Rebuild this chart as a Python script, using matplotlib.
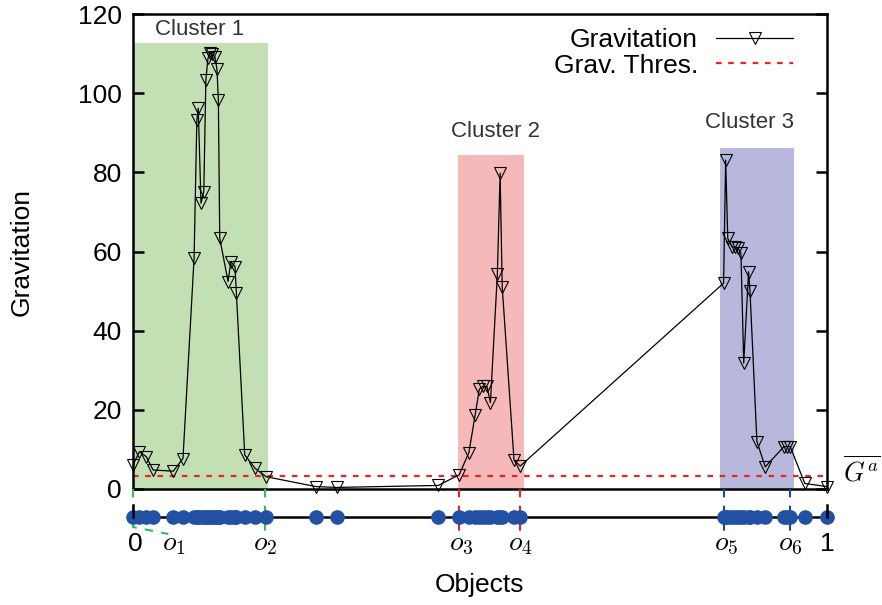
import numpy as np
import matplotlib
matplotlib.use("Agg")
import matplotlib.pyplot as plt

plt.rcParams['font.family'] = ['Liberation Sans', 'DejaVu Sans']
plt.rcParams['mathtext.fontset'] = 'cm'

# object positions (normalised 0..1) and their gravitation values
obj_x = [0.000, 0.009, 0.019, 0.029, 0.058, 0.072, 0.088, 0.092, 0.094, 0.098,
         0.102, 0.105, 0.108, 0.111, 0.114, 0.118, 0.121, 0.123, 0.125, 0.137,
         0.141, 0.147, 0.149, 0.161, 0.176, 0.192,
         0.264, 0.294, 0.440, 0.470,
         0.484, 0.493, 0.499, 0.504, 0.510, 0.515, 0.525, 0.529, 0.532, 0.549,
         0.558,
         0.851, 0.854, 0.857, 0.863, 0.867, 0.872, 0.876, 0.880, 0.887, 0.889,
         0.899, 0.911, 0.938, 0.942, 0.947, 0.968, 1.000]
grav = [6.0, 9.4, 8.2, 4.8, 4.5, 7.7, 58.3, 93.2, 96.2, 72.2,
        75.1, 103.3, 108.8, 110.1, 109.9, 109.2, 106.0, 98.3, 63.3, 52.4,
        57.4, 56.2, 49.4, 8.6, 5.2, 3.1,
        0.6, 0.4, 0.9, 3.6,
        9.2, 18.7, 25.2, 25.9, 25.9, 21.8, 54.3, 79.8, 51.1, 7.3,
        5.8,
        52.0, 83.1, 63.3, 61.2, 61.1, 60.8, 59.5, 31.8, 54.9, 50.1,
        12.0, 5.6, 10.7, 10.7, 10.7, 1.4, 0.6]
thres = 3.3

clusters = ['Cluster 1', 'Cluster 2', 'Cluster 3']
clu_span = [(0.000, 0.195), (0.468, 0.563), (0.846, 0.952)]
clu_top = [112.7, 84.4, 86.2]
clu_color = ['#c3e0b4', '#f6b9ba', '#b8b8dc']
clu_line = ['#33bb55', '#dd2233', '#2244aa']
clu_lab_pos = [(0.0965, 116.0), (0.523, 90.2), (0.889, 92.7)]

# boundary objects o1..o6
bound_x = [0.000, 0.190, 0.470, 0.558, 0.851, 0.947]
bound_lab = ['$o_1$', '$o_2$', '$o_3$', '$o_4$', '$o_5$', '$o_6$']
bound_lab_x = [0.059, 0.190, 0.473, 0.558, 0.855, 0.947]

fig = plt.figure(figsize=(8.82, 6.05), dpi=100)
ax = fig.add_axes([133 / 882, 116 / 605, 694 / 882, 475 / 605])

for i in range(len(clusters)):
    x0, x1 = clu_span[i]
    ax.fill_between([x0, x1], 0, clu_top[i], color=clu_color[i], lw=0, zorder=0)
    ax.text(clu_lab_pos[i][0], clu_lab_pos[i][1], clusters[i], ha='center',
            va='center', fontsize=16, color='#333333')

ax.plot(obj_x, grav, color='black', lw=0.9, marker='v', ms=9, mfc='none',
        mec='black', mew=0.8, clip_on=False, zorder=3, label='Gravitation')
ax.axhline(thres, color='#ee2222', lw=1.6, ls=(0, (2.5, 3)), zorder=2,
           label='Grav. Thres.')

ax.set_xlim(0, 1)
ax.set_ylim(0, 120)
ax.set_yticks(range(0, 121, 20))
ax.set_xticks([])
ax.tick_params(axis='y', direction='in', length=8, width=1.8, labelsize=19,
               right=True, pad=8)
for s in ax.spines.values():
    s.set_linewidth(1.8)
ax.set_ylabel('Gravitation', fontsize=19, labelpad=32)

ax.text(1.023, 4.6, r'$\overline{G^a}$', fontsize=19, ha='left', va='center',
        transform=ax.get_yaxis_transform())

ax.legend(loc='upper right', bbox_to_anchor=(0.951, 0.970), frameon=False,
          markerfirst=False, fontsize=19, handlelength=2.9, handletextpad=0.7,
          labelspacing=0.05, borderpad=0, borderaxespad=0)

# number line with the objects underneath
ax2 = fig.add_axes([133 / 882, 45 / 605, 694 / 882, 71 / 605], sharex=ax)
ax2.set_ylim(-71, 0)
ax2.axis('off')
ax2.plot([0, 1], [-28, -28], color='black', lw=1.8, zorder=2, clip_on=False)
ax2.plot(obj_x, np.full(len(obj_x), -28), 'o', color='#2251a3', ms=9.5,
         zorder=3, clip_on=False)
for xe in [0, 1]:
    ax2.plot([xe, xe], [-16, -28], color='black', lw=1.8, zorder=4, clip_on=False)

for i, xb in enumerate(bound_x):
    c = clu_line[i // 2]
    if i == 0:
        ax2.plot([xb, xb, 0.051], [0, -38, -45], color=c, lw=1.5,
                 ls=(0, (4, 4)), zorder=1, clip_on=False)
    else:
        ax2.plot([xb, xb], [0, -46], color=c, lw=1.5, ls=(0, (4, 4)),
                 zorder=1, clip_on=False)
    ax2.text(bound_lab_x[i], -55, bound_lab[i], fontsize=20, ha='center',
             va='center')

ax2.text(0.004, -55, '0', fontsize=19, ha='center', va='center')
ax2.text(1.0, -55, '1', fontsize=19, ha='center', va='center')

fig.text(479 / 882, 20 / 605, 'Objects', fontsize=19, ha='center', va='center')

fig.savefig('out.png', dpi=100)
